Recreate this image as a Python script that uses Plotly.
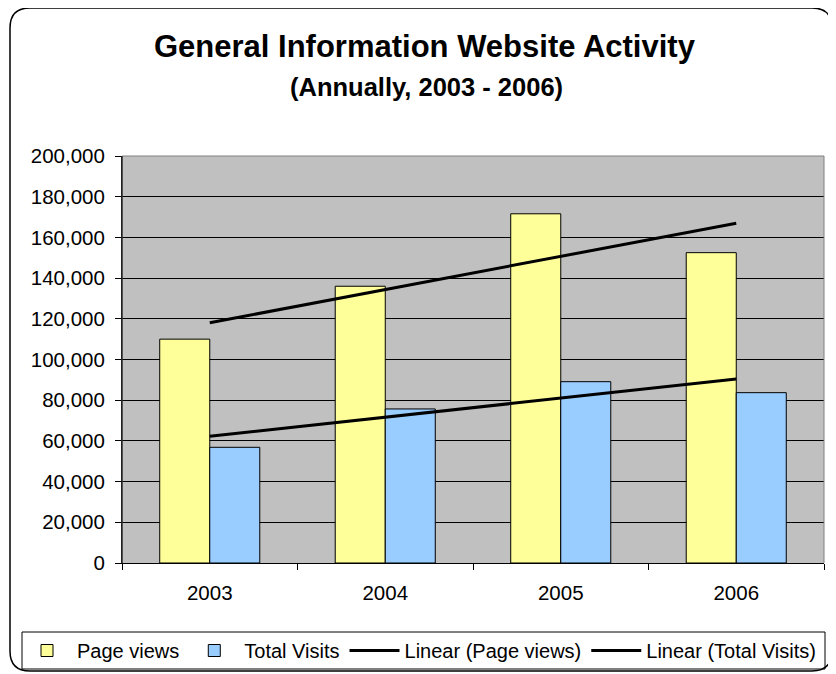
import numpy as np
import plotly.graph_objects as go

# data
years = ["2003", "2004", "2005", "2006"]
page_views = [110000, 136000, 171600, 152500]
total_visits = [56850, 75700, 89100, 83700]
y_ticks = list(range(0, 200001, 20000))

# the page puts the plot 8px in from the window corner, so work in window px
# and shift by OFF
OFF = 8
W, H = 836 - OFF, 674 - OFF
L, R, T, B = 122, 824, 156, 563  # plot area in window px


def px(x):
    return (x - L) / (R - L)


def py(y):
    return (B - y) / (B - T)


# linear trend lines (as Excel's "Linear" trendline)
xi = np.arange(len(years))
pv_fit = np.polyval(np.polyfit(xi, page_views, 1), xi)
tv_fit = np.polyval(np.polyfit(xi, total_visits, 1), xi)

fig = go.Figure()
fig.add_trace(go.Bar(x=years, y=page_views, name="Page views",
                     marker=dict(color="#FFFF99", line=dict(color="black", width=1))))
fig.add_trace(go.Bar(x=years, y=total_visits, name="Total Visits",
                     marker=dict(color="#99CCFF", line=dict(color="black", width=1))))
fig.add_trace(go.Scatter(x=years, y=pv_fit, mode="lines", name="Linear (Page views)",
                         line=dict(color="black", width=3)))
fig.add_trace(go.Scatter(x=years, y=tv_fit, mode="lines", name="Linear (Total Visits)",
                         line=dict(color="black", width=3)))

font = "Liberation Sans, Arial, sans-serif"

fig.update_layout(
    width=W, height=H,
    margin=dict(l=L - OFF, r=W - (R - OFF), t=T - OFF, b=H - (B - OFF), pad=0,
                autoexpand=False),
    paper_bgcolor="white",
    plot_bgcolor="#C0C0C0",
    barmode="group",
    bargap=0.43,
    bargroupgap=0,
    font=dict(family=font, size=20, color="black"),
    showlegend=True,
    legend=dict(orientation="h", x=px(17), y=py(650.5), xanchor="left", yanchor="middle",
                bgcolor="rgba(0,0,0,0)", borderwidth=0,
                font=dict(size=20), itemwidth=50, tracegroupgap=0),
)

fig.update_xaxes(type="category", tickson="boundaries", ticks="outside", ticklen=6,
                 tickcolor="black", showline=True, linecolor="black", linewidth=1,
                 showgrid=False, ticklabelstandoff=11, automargin=False,
                 tickfont=dict(size=20.5, family=font))
fig.update_yaxes(range=[0, 200000], tickvals=y_ticks, tickformat=",d", ticks="outside",
                 ticklen=6, tickcolor="black", showline=True, linecolor="black", linewidth=1,
                 showgrid=True, gridcolor="black", gridwidth=1, zeroline=False,
                 ticklabelstandoff=6, automargin=False,
                 tickfont=dict(size=20.5, family=font))

# titles
fig.add_annotation(text="<b>General Information Website Activity</b>", xref="paper", yref="paper",
                   x=px(425), y=py(47), xanchor="center", yanchor="middle", showarrow=False,
                   font=dict(size=31, family=font, color="black"))
fig.add_annotation(text="<b>(Annually, 2003 - 2006)</b>", xref="paper", yref="paper",
                   x=px(426), y=py(87), xanchor="center", yanchor="middle", showarrow=False,
                   font=dict(size=25.5, family=font, color="black"))

# plot area border (top/right in gray)
fig.add_shape(type="path", xref="paper", yref="paper", layer="above",
              path="M 0,0 L 0,1 L 1,1 L 1,0", line=dict(color="#808080", width=1))
fig.add_shape(type="line", xref="paper", yref="paper", layer="above",
              x0=0, x1=0, y0=0, y1=1, line=dict(color="black", width=1))

# legend box
fig.add_shape(type="rect", xref="paper", yref="paper",
              x0=px(22), x1=px(825), y0=py(632), y1=py(669),
              line=dict(color="black", width=1))

# rounded chart border
x0, x1, y0, y1, r = 10, 832, 8, 671, 20
pts = [
    ("M", (x0 + r, y0)), ("L", (x1 - r, y0)), ("Q", (x1, y0), (x1, y0 + r)),
    ("L", (x1, y1 - r)), ("Q", (x1, y1), (x1 - r, y1)), ("L", (x0 + r, y1)),
    ("Q", (x0, y1), (x0, y1 - r)), ("L", (x0, y0 + r)), ("Q", (x0, y0), (x0 + r, y0)),
]
path = ""
for p in pts:
    path += p[0] + " " + " ".join(f"{px(a):.5f},{py(b):.5f}" for a, b in p[1:]) + " "
path += "Z"
fig.add_shape(type="path", xref="paper", yref="paper", path=path,
              line=dict(color="black", width=1.5))

fig.write_html("out.html")
